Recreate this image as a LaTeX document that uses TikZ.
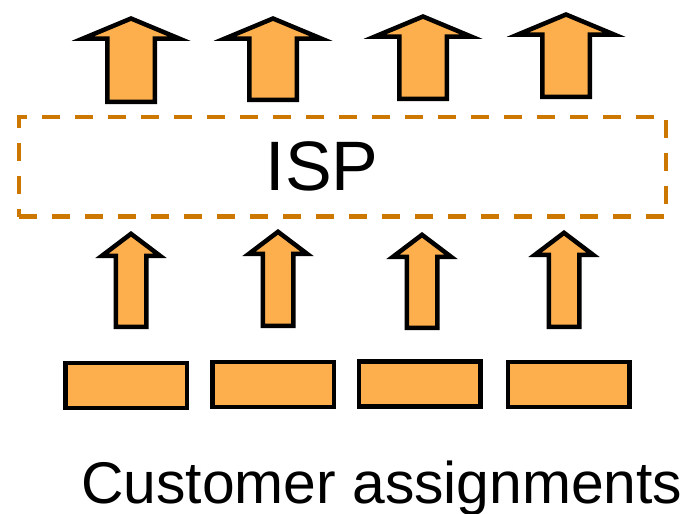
\documentclass[tikz,border=0pt]{standalone}
\usepackage{fontspec}
\setmainfont{Liberation Sans}
\usepackage{tikz}
\definecolor{custfill}{RGB}{253,175,77}
\definecolor{ispline}{RGB}{204,119,0}

\begin{document}
\begin{tikzpicture}[x=1pt,y=-1pt,
		uparrow/.style={draw=black,fill=custfill,line width=4.5pt,line join=miter},
		custbox/.style={draw=black,fill=custfill,line width=4.5pt,inner sep=0pt,minimum width=121.5pt,minimum height=45pt},
		ispbox/.style={draw=ispline,line width=4.5pt,dash pattern=on 18pt off 15pt,minimum width=647pt,minimum height=99.5pt}]
		\useasboundingbox (0,0) rectangle (680,514);

		\node[ispbox] (isp) at (342.5,166.8) {};
		\node[font=\fontsize{70}{70}\selectfont,anchor=base,inner sep=0pt] (ispname) at (322,190) {ISP};

		\node[custbox] (c1) at (126,385.5) {};
		\node[custbox] (c2) at (273,384.5) {};
		\node[custbox] (c3) at (419.5,384) {};
		\node[custbox] (c4) at (568.5,384.5) {};

		% arrows from the customers up to the ISP
		\foreach \x/\t/\b in {131/231/329, 278/229/328, 422/232/330, 564/230/329}
		\draw[uparrow] (\x,\t+2.8) -- (\x+29,\t+24.75) -- (\x+15.25,\t+24.75) -- (\x+15.25,\b-2.25)
			-- (\x-15.25,\b-2.25) -- (\x-15.25,\t+24.75) -- (\x-29,\t+24.75) -- cycle;

		% arrows out of the ISP
		\foreach \x/\t/\b in {131/16/104, 273/16/102, 423/14/101, 566/12/99}
		\draw[uparrow] (\x,\t+2.5) -- (\x+48,\t+22.5) -- (\x+23.75,\t+22.5) -- (\x+23.75,\b-2.25)
			-- (\x-23.75,\b-2.25) -- (\x-23.75,\t+22.5) -- (\x-48,\t+22.5) -- cycle;

		\node[font=\fontsize{58.8}{58.8}\selectfont,anchor=base west,inner sep=0pt] (custlabel) at (81,503.5) {Customer assignments};
	\end{tikzpicture}
\end{document}
